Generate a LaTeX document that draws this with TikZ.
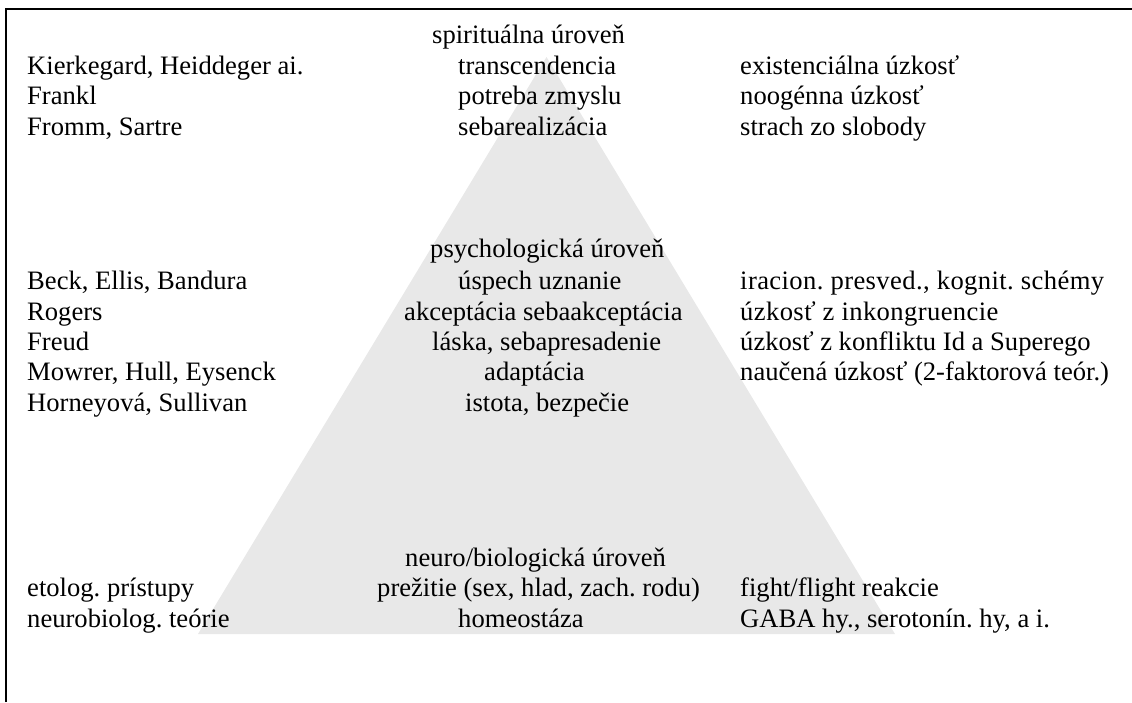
\documentclass[tikz,border=0pt]{standalone}
\usepackage{fontspec}
\setmainfont{Liberation Serif}
\definecolor{pyrgray}{RGB}{232,232,232}
\begin{document}
\frenchspacing
\begin{tikzpicture}[x=1pt,y=-1pt,
  txt/.style={anchor=base west,inner sep=0pt,font=\fontsize{26.6}{30}\selectfont},
  wide/.style={txt,font=\fontsize{26.6}{30}\selectfont\addfontfeature{LetterSpace=1.5}},
  frame/.style={line width=2pt,black},
  pyr/.style={fill=pyrgray}]
\useasboundingbox (0,0) rectangle (1132,702);
\fill[pyr] (546.5,57) -- (198,634) -- (895,634) -- cycle;
\draw[frame] (6,702) -- (6,9) -- (1132,9);
% top group
\node[txt] (sl) at (432,43) {spirituálna úroveň};
\node[txt] (l1) at (27,74) {Kierkegard, Heiddeger ai.};
\node[txt] (m1) at (458,74) {transcendencia};
\node[txt] (r1) at (740,74) {existenciálna úzkosť};
\node[txt] (l2) at (27,104) {Frankl};
\node[txt] (m2) at (458,104) {potreba zmyslu};
\node[txt] (r2) at (740,104) {noogénna úzkosť};
\node[txt] (l3) at (27,135) {Fromm, Sartre};
\node[txt] (m3) at (458,135) {sebarealizácia};
\node[txt] (r3) at (740,135) {strach zo slobody};
% middle group
\node[txt] (pl) at (430,257) {psychologická úroveň};
\node[txt] (l4) at (27,289) {Beck, Ellis, Bandura};
\node[txt] (m4) at (458,289) {úspech uznanie};
\node[wide] (r4) at (740,289) {iracion. presved., kognit. schémy};
\node[txt] (l5) at (27,320) {Rogers};
\node[txt] (m5) at (404,320) {akceptácia sebaakceptácia};
\node[wide] (r5) at (740,320) {úzkosť z inkongruencie};
\node[txt] (l6) at (27,350) {Freud};
\node[txt] (m6) at (432,350) {láska, sebapresadenie};
\node[txt] (r6) at (740,350) {úzkosť z konfliktu Id a Superego};
\node[txt] (l7) at (27,380) {Mowrer, Hull, Eysenck};
\node[txt] (m7) at (484,380) {adaptácia};
\node[txt] (r7) at (740,380) {naučená úzkosť (2-faktorová teór.)};
\node[txt] (l8) at (27,411) {Horneyová, Sullivan};
\node[txt] (m8) at (465,411) {istota, bezpečie};
% bottom group
\node[txt] (nl) at (405,566) {neuro/biologická úroveň};
\node[txt] (l9) at (27,596) {etolog. prístupy};
\node[txt] (m9) at (377,596) {prežitie (sex, hlad, zach. rodu)};
\node[txt] (r9) at (740,596) {fight/flight reakcie};
\node[txt] (l10) at (27,627) {neurobiolog. teórie};
\node[txt] (m10) at (458,627) {homeostáza};
\node[txt] (r10) at (740,627) {GABA hy., serotonín. hy, a i.};
\end{tikzpicture}
\end{document}
